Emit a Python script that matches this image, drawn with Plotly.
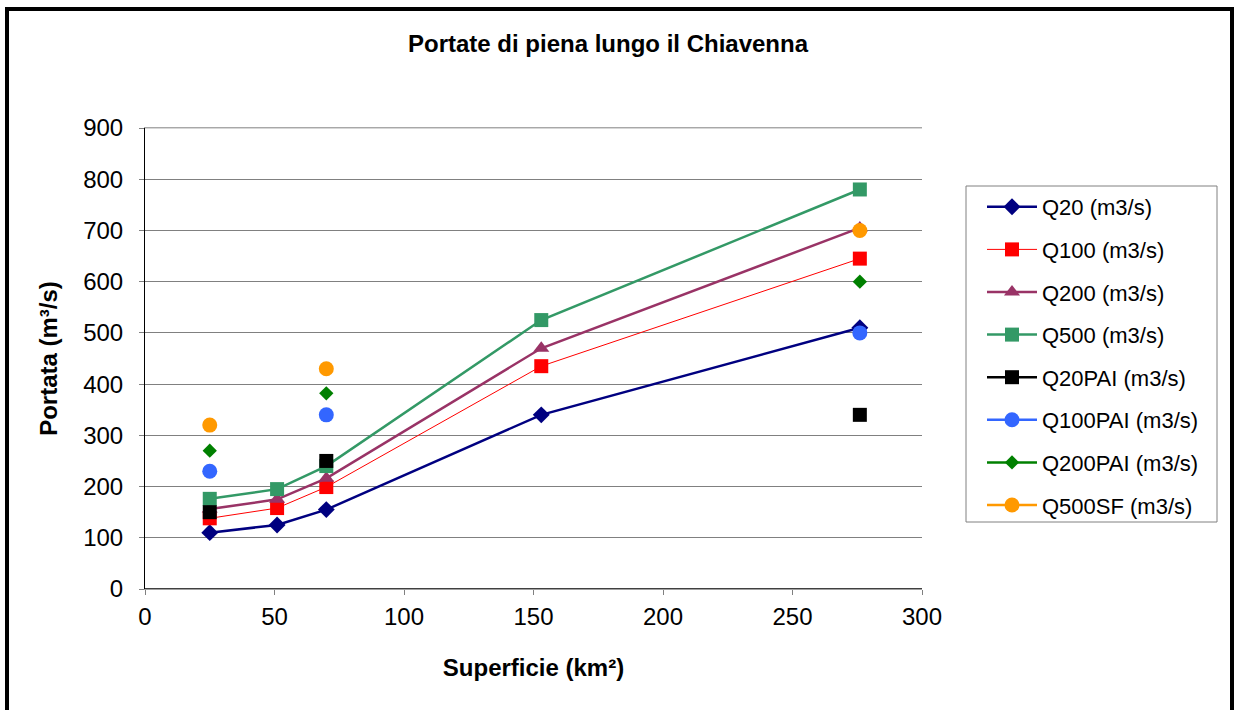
import plotly.graph_objects as go

# Catchment areas (km²) for the sections along the river
superficie = [25, 51, 70, 153, 276]

# Flood discharges (m³/s); None where the section has no value
q20 = [110, 125, 155, 340, 510]
q100 = [138, 158, 199, 435, 645]
q200 = [156, 175, 216, 470, 705]
q500 = [176, 195, 240, 525, 780]
q20pai = [150, None, 250, None, 340]
q100pai = [230, None, 340, None, 500]
q200pai = [270, None, 382, None, 600]
q500sf = [320, None, 430, None, 700]

series = [
    ("Q20 (m3/s)", q20, "#000080", 2.5, "diamond", 13),
    ("Q100 (m3/s)", q100, "#FF0000", 1, "square", 14),
    ("Q200 (m3/s)", q200, "#993366", 2.5, "triangle-up", 14),
    ("Q500 (m3/s)", q500, "#339966", 2.5, "square", 14),
    ("Q20PAI (m3/s)", q20pai, "#000000", 2.5, "square", 14),
    ("Q100PAI (m3/s)", q100pai, "#3366FF", 2.5, "circle", 15),
    ("Q200PAI (m3/s)", q200pai, "#008000", 2.5, "diamond", 11),
    ("Q500SF (m3/s)", q500sf, "#FF9900", 2.5, "circle", 15),
]

fig = go.Figure()
for i, (name, vals, color, lw, sym, size) in enumerate(series):
    fig.add_trace(go.Scatter(
        x=superficie, y=vals, name=name, mode="lines+markers",
        connectgaps=False, legendgroup=f"g{i}",
        line=dict(color=color, width=lw),
        marker=dict(symbol=sym, size=size, color=color),
    ))

# plot area spans x 145..922 px and y 128..589 px of the page
px_x = lambda p: (p - 145) / 777
px_y = lambda p: (589 - p) / 461

font = "Arial, Liberation Sans, sans-serif"
fig.update_layout(
    width=1238, height=710,
    margin=dict(l=145, r=316, t=128, b=121),
    paper_bgcolor="white", plot_bgcolor="white",
    font=dict(family=font, size=24, color="black"),
    title=dict(text="<b>Portate di piena lungo il Chiavenna</b>",
               x=(608 / 1238), xanchor="center", y=1 - 44 / 710, yanchor="middle",
               font=dict(size=24)),
    xaxis=dict(range=[0, 300], dtick=50, showgrid=False, zeroline=False,
               showline=True, linecolor="#A0A0A0", linewidth=1, mirror=True,
               ticks="outside", ticklen=5, tickcolor="#808080",
               ticklabelstandoff=1,
               title=dict(text="<b>Superficie (km²)</b>", font=dict(size=24), standoff=30)),
    yaxis=dict(range=[0, 900], dtick=100, showgrid=True, gridcolor="#808080", gridwidth=1,
               zeroline=False, showline=True, linecolor="#000000", linewidth=1, mirror=False,
               ticks="outside", ticklen=5, tickcolor="#808080",
               ticklabelstandoff=11,
               title=dict(text="<b>Portata (m³/s)</b>", font=dict(size=24), standoff=18)),
    legend=dict(x=px_x(982), xanchor="left", y=px_y(186), yanchor="top",
                borderwidth=0, bgcolor="rgba(0,0,0,0)",
                font=dict(size=22), tracegroupgap=11, itemwidth=50),
    shapes=[
        # legend box
        dict(type="rect", xref="paper", yref="paper", layer="below",
             x0=px_x(966), x1=px_x(1217), y0=px_y(522), y1=px_y(186),
             line=dict(color="#808080", width=1), fillcolor="white"),
        # plot area top border
        dict(type="line", xref="paper", yref="paper", x0=0, x1=1, y0=1, y1=1,
             line=dict(color="#B0B0B0", width=1)),
        # x axis line at zero
        dict(type="line", xref="paper", yref="y", x0=0, x1=1, y0=0, y1=0,
             line=dict(color="#000000", width=1.5)),
        # outer frame of the chart
        dict(type="rect", xref="paper", yref="paper",
             x0=px_x(7), x1=px_x(1232), y0=px_y(720), y1=px_y(9),
             line=dict(color="black", width=4)),
    ],
)

fig.write_html("out.html")
